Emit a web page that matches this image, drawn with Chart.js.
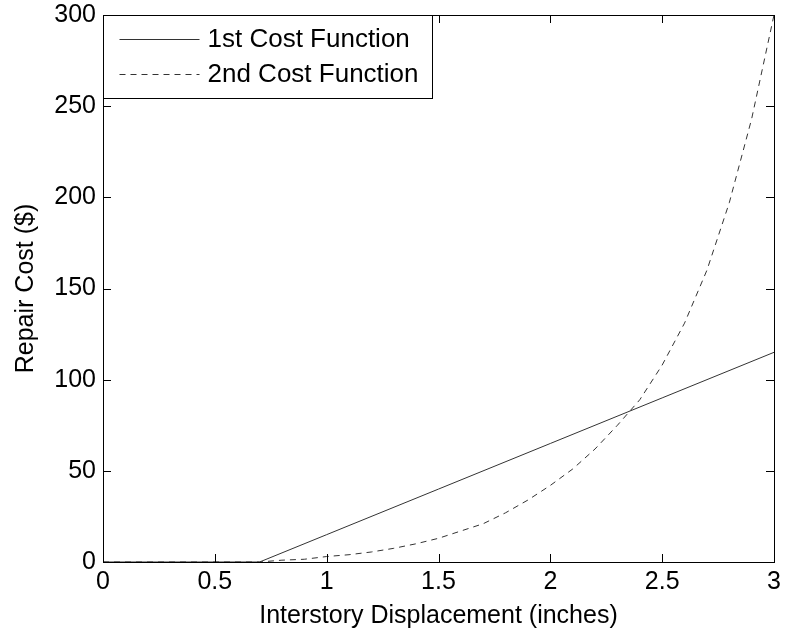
<!DOCTYPE html>
<html>
<head>
<meta charset="utf-8">
<script src="https://cdn.jsdelivr.net/npm/chart.js@4"></script>
<style>
  html, body { margin: 0; padding: 0; background: #fff; }
  canvas { display: block; }
</style>
</head>
<body>
<canvas id="grafico" width="785" height="635"></canvas>
<script>
// ===== dados =====
const seriesNames = ['1st Cost Function', '2nd Cost Function'];

const firstX = [0, 0.7, 1.0, 1.5, 2.0, 2.5, 3.0];
const firstY = [0, 0, 15, 40, 65, 90, 115];

const secondX = [0, 0.7, 0.8, 0.9, 1.0, 1.1, 1.2, 1.3, 1.4, 1.5, 1.6, 1.7, 1.8,
                 1.9, 2.0, 2.1, 2.2, 2.3, 2.4, 2.5, 2.6, 2.7, 2.8, 2.9, 3.0];
const secondY = [0, 0, 1, 1.5, 3, 4, 5.5, 7.5, 10, 13, 17, 21, 27,
                 34, 42, 51, 62, 75, 89, 108, 131, 160, 197, 243, 300];

const xTicks = [0, 0.5, 1, 1.5, 2, 2.5, 3];
const yTicks = [0, 50, 100, 150, 200, 250, 300];

const xTitle = 'Interstory Displacement (inches)';
const yTitle = 'Repair Cost ($)';

const FONT = 'Liberation Sans, Arial, Helvetica, sans-serif';
const FS = 25;

const pares = (xs, ys) => xs.map((x, i) => ({ x: x, y: ys[i] }));

// caixa estilo MATLAB com ticks para dentro + legenda dentro do grafico
const caixaPlugin = {
  id: 'caixa',
  afterDraw(chart) {
    const { ctx, chartArea: a, scales } = chart;
    const tl = 8;
    ctx.save();
    ctx.strokeStyle = '#000';
    ctx.lineWidth = 1;
    ctx.setLineDash([]);
    ctx.beginPath();
    xTicks.forEach(v => {
      const px = Math.round(scales.x.getPixelForValue(v)) + 0.5;
      ctx.moveTo(px, a.bottom); ctx.lineTo(px, a.bottom - tl);
      ctx.moveTo(px, a.top); ctx.lineTo(px, a.top + tl);
    });
    yTicks.forEach(v => {
      const py = Math.round(scales.y.getPixelForValue(v)) + 0.5;
      ctx.moveTo(a.left, py); ctx.lineTo(a.left + tl, py);
      ctx.moveTo(a.right, py); ctx.lineTo(a.right - tl, py);
    });
    ctx.stroke();
    ctx.strokeRect(Math.round(a.left) + 0.5, Math.round(a.top) + 0.5,
                   Math.round(a.right - a.left), Math.round(a.bottom - a.top));

    // legenda
    const lx = Math.round(a.left) + 0.5, ly = Math.round(a.top) + 0.5;
    const lw = 329, lh = 83;
    ctx.fillStyle = '#fff';
    ctx.fillRect(lx, ly, lw, lh);
    ctx.strokeRect(lx, ly, lw, lh);
    ctx.font = '26px ' + FONT;
    ctx.textBaseline = 'middle';
    chart.data.datasets.forEach((ds, i) => {
      const yy = ly + 23 + i * 35;
      ctx.strokeStyle = ds.borderColor;
      ctx.setLineDash(ds.borderDash || []);
      ctx.beginPath();
      ctx.moveTo(lx + 16, Math.round(yy) + 0.5);
      ctx.lineTo(lx + 96, Math.round(yy) + 0.5);
      ctx.stroke();
      ctx.fillStyle = '#000';
      ctx.fillText(ds.label, lx + 104, yy + 1);
    });
    ctx.restore();
  }
};

new Chart(document.getElementById('grafico'), {
  type: 'line',
  data: {
    datasets: [{
      label: seriesNames[0],
      data: pares(firstX, firstY),
      borderColor: '#333',
      borderWidth: 1,
      pointRadius: 0,
      tension: 0
    }, {
      label: seriesNames[1],
      data: pares(secondX, secondY),
      borderColor: '#333',
      borderWidth: 1,
      borderDash: [6, 5],
      pointRadius: 0,
      tension: 0
    }]
  },
  options: {
    responsive: false,
    devicePixelRatio: 1,
    animation: false,
    layout: { padding: { left: 0, right: 11, top: 15, bottom: 0 } },
    plugins: { legend: { display: false }, tooltip: { enabled: false } },
    scales: {
      x: {
        type: 'linear', min: 0, max: 3,
        afterBuildTicks: s => { s.ticks = xTicks.map(v => ({ value: v })); },
        afterFit: s => { s.height = 73; s.paddingLeft = 0; s.paddingRight = 0; },
        grid: { display: false, drawTicks: false },
        border: { display: false },
        ticks: { color: '#000', font: { family: FONT, size: FS }, padding: 5, maxRotation: 0, callback: v => String(v) },
        title: { display: true, text: xTitle, color: '#000', font: { family: FONT, size: FS }, padding: { top: 0, bottom: 4 } }
      },
      y: {
        type: 'linear', min: 0, max: 300,
        afterBuildTicks: s => { s.ticks = yTicks.map(v => ({ value: v })); },
        afterFit: s => { s.width = 103; s.paddingTop = 0; s.paddingBottom = 0; },
        grid: { display: false, drawTicks: false },
        border: { display: false },
        ticks: { color: '#000', font: { family: FONT, size: FS }, padding: 7, callback: v => String(v) },
        title: { display: true, text: yTitle, color: '#000', font: { family: FONT, size: FS }, padding: { top: 11, bottom: 0 } }
      }
    }
  },
  plugins: [caixaPlugin]
});
</script>
</body>
</html>
